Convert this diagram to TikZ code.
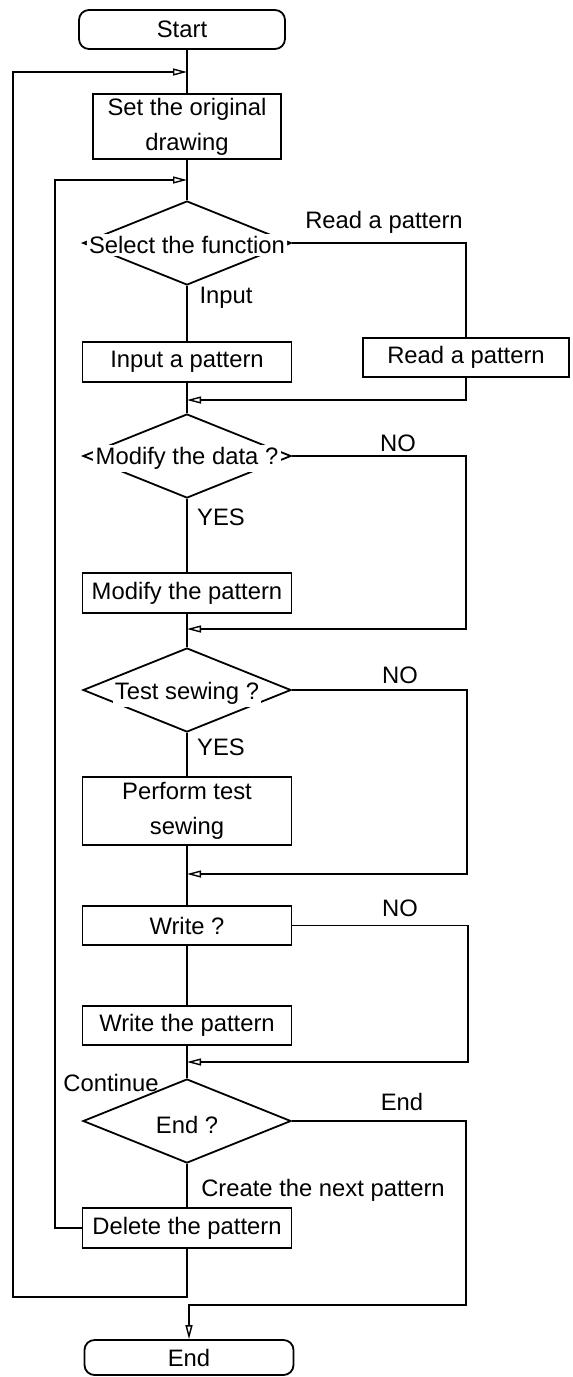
\documentclass[tikz,border=0pt]{standalone}
\usepackage{fontspec}
\setmainfont{Liberation Sans}
\usetikzlibrary{arrows.meta,shapes.geometric}
\begin{document}
\begin{tikzpicture}[x=0.5pt,y=-0.5pt,
  every node/.style={font=\fontsize{11.9pt}{17.5pt}\selectfont, inner sep=0pt},
  proc/.style={draw, line width=0.9pt, rectangle, minimum width=104.5pt,
    minimum height=20pt, align=center},
  term/.style={proc, rounded corners=5pt},
  decide/.style={draw, line width=0.9pt, diamond, minimum width=104pt,
    minimum height=42pt},
  lbl/.style={fill=white, inner sep=1.2pt},
  flow/.style={line width=0.7pt},
  arr/.style={flow, -{Triangle[open,length=7pt,width=3.5pt]}},
]
\useasboundingbox (0,0) rectangle (573,1377);

% boxes and decisions down the main line
\node[term, minimum width=103pt, minimum height=19.5pt] (start) at (182,29.5) {Start};
\node[proc, minimum width=94pt, minimum height=32.5pt] (set) at (187,126.5) {Set the original\\drawing};
\node[decide] (sel) at (187,243) {};
\node[lbl] (selt) at (187,245) {Select the function};
\node[proc] (inp) at (187,362) {Input a pattern};
\node[proc, minimum width=103pt, minimum height=19.5pt] (read) at (466,357.5) {Read a pattern};
\node[decide] (mod) at (187,456) {};
\node[lbl] (modt) at (187,458) {Modify the data ?};
\node[proc] (modp) at (187,593) {Modify the pattern};
\node[decide] (test) at (187,690) {};
\node[lbl] (testt) at (187,693) {Test sewing ?};
\node[proc, minimum height=34pt] (perf) at (187,811) {Perform test\\sewing};
\node[proc, minimum height=19.5pt] (wq) at (187,925.5) {Write ?};
\node[proc, minimum height=19.5pt] (wp) at (187,1025.5) {Write the pattern};
\node[decide] (endq) at (187,1121) {};
\node[lbl] (endt) at (187,1125) {End ?};
\node[proc] (del) at (187,1228) {Delete the pattern};
\node[term, minimum height=17.5pt] (stop) at (189,1357.5) {End};

% branch labels
\node (readlab) at (384,222) {Read a pattern};
\node (inlab) at (226,298) {Input};
\node (no1) at (398,443) {NO};
\node (yes1) at (221,517) {YES};
\node (no2) at (400,675) {NO};
\node (yes2) at (221,747) {YES};
\node (no3) at (400,908) {NO};
\node (cont) at (111,1083) {Continue};
\node (endlab) at (402,1102) {End};
\node (next) at (323,1190) {Create the next pattern};

% junction points on the main line
\coordinate (j1) at (187,72);
\coordinate (j2) at (187,180);
\coordinate (m1) at (187,400);
\coordinate (m2) at (187,629);
\coordinate (m3) at (187,874);
\coordinate (m4) at (187,1062);
\coordinate (ob) at (187,1297);
\coordinate (eb) at (189,1305);

% main line
\draw[flow] (set.north |- start.south) -- (set.north);
\draw[flow] (set.south) -- (sel.north);
\draw[flow] (sel.south) -- (inp.north);
\draw[flow] (inp.south) -- (mod.north);
\draw[flow] (mod.south) -- (modp.north);
\draw[flow] (modp.south) -- (test.north);
\draw[flow] (test.south) -- (perf.north);
\draw[flow] (perf.south) -- (wq.north);
\draw[flow] (wq.south) -- (wp.north);
\draw[flow] (wp.south) -- (endq.north);
\draw[flow] (endq.south) -- (del.north);

% side branches
\draw[flow] (sel.east) -- (466,243) -- (read.north);
\draw[arr] (read.south) -- (466,400) -- (m1);
\draw[arr] (mod.east) -- (466,456) -- (466,629) -- (m2);
\draw[arr] (test.east) -- (467,690) -- (467,874) -- (m3);
\draw[arr] (wq.east) -- (468,925.5) -- (468,1062) -- (m4);
\draw[arr] (endq.east) -- (466,1121) -- (466,1305) -- (eb) -- (stop.north);

% return loops
\draw[arr] (del.west) -- (55,1228) -- (55,180) -- (j2);
\draw[arr] (del.south) -- (ob) -- (13,1297) -- (13,72) -- (j1);
\end{tikzpicture}
\end{document}
